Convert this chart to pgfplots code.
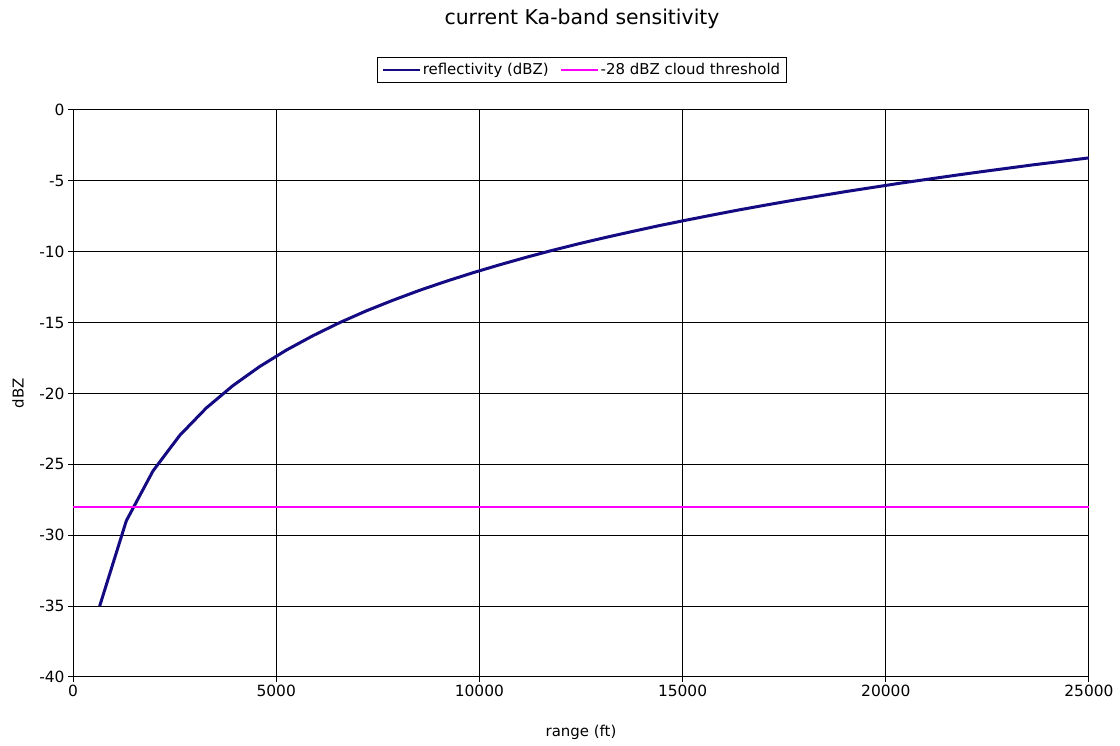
\documentclass[border=0pt]{standalone}
\usepackage{pgfplots}
\pgfplotsset{compat=1.18}
\usepackage{fontspec}
\setmainfont{DejaVu Sans}
\definecolor{refl}{RGB}{20,10,130}
\definecolor{thr}{RGB}{255,0,255}

\begin{document}
\begin{tikzpicture}
\useasboundingbox (0,0) rectangle (1120bp,746bp);
\begin{axis}[
    at={(73bp,69bp)}, anchor=south west,
    scale only axis, width=1016bp, height=567bp,
    xmin=0, xmax=25000, ymin=-40, ymax=0,
    xtick={0,5000,...,25000}, ytick={-40,-35,...,0},
    scaled ticks=false,
    axis lines=left, axis line style={-, black, line width=1bp},
    grid=major, major grid style={black, line width=1bp},
    tick align=outside, major tick length=5bp, tick style={black, line width=1bp},
    /pgf/number format/assume math mode=true,
    /pgf/number format/set thousands separator={},
    ticklabel style={font=\fontsize{15.5}{18}\selectfont},
    xlabel={range (ft)}, ylabel={dBZ},
    label style={font=\fontsize{15}{18}\selectfont},
    xlabel style={at={(axis description cs:0.5,-0.097)}, anchor=center},
    ylabel style={at={(axis description cs:-0.054,0.5)}, anchor=center},
    title={current Ka-band sensitivity},
    title style={font=\fontsize{20.5}{24}\selectfont, at={(axis description cs:0.501,1.15)}, anchor=center},
    legend columns=2,
    legend style={at={(axis description cs:0.501,1.0705)}, anchor=center,
        draw=black, line width=0.8bp, fill=white, font=\fontsize{15}{18}\selectfont,
        inner xsep=4bp, inner ysep=4bp,
        /tikz/every even column/.append style={column sep=9bp}},
    legend image code/.code={\draw[#1, line width=2bp] (0,0) -- (37bp,0);},
    clip=true,
]
\addplot[refl, line width=3bp] coordinates {
(656,-35.00) (1312,-28.98) (1969,-25.46) (2625,-22.96) (3281,-21.02)
(3937,-19.44) (4593,-18.10) (5249,-16.94) (5906,-15.92) (6562,-15.00)
(7218,-14.17) (7874,-13.42) (8530,-12.72) (9186,-12.08) (9843,-11.48)
(10499,-10.92) (11155,-10.39) (11811,-9.89) (12467,-9.42) (13123,-8.98)
(13780,-8.56) (14436,-8.15) (15092,-7.77) (15748,-7.40) (16404,-7.04)
(17060,-6.70) (17717,-6.37) (18373,-6.06) (19029,-5.75) (19685,-5.46)
(20341,-5.17) (20997,-4.90) (21654,-4.63) (22310,-4.37) (22966,-4.12)
(23622,-3.87) (24278,-3.64) (24934,-3.40) (25591,-3.18)
};
\addlegendentry{reflectivity (dBZ)}
\addplot[thr, line width=2bp] coordinates {(0,-28) (25000,-28)};
\addlegendentry{-28 dBZ cloud threshold}
\end{axis}
\end{tikzpicture}
\end{document}
